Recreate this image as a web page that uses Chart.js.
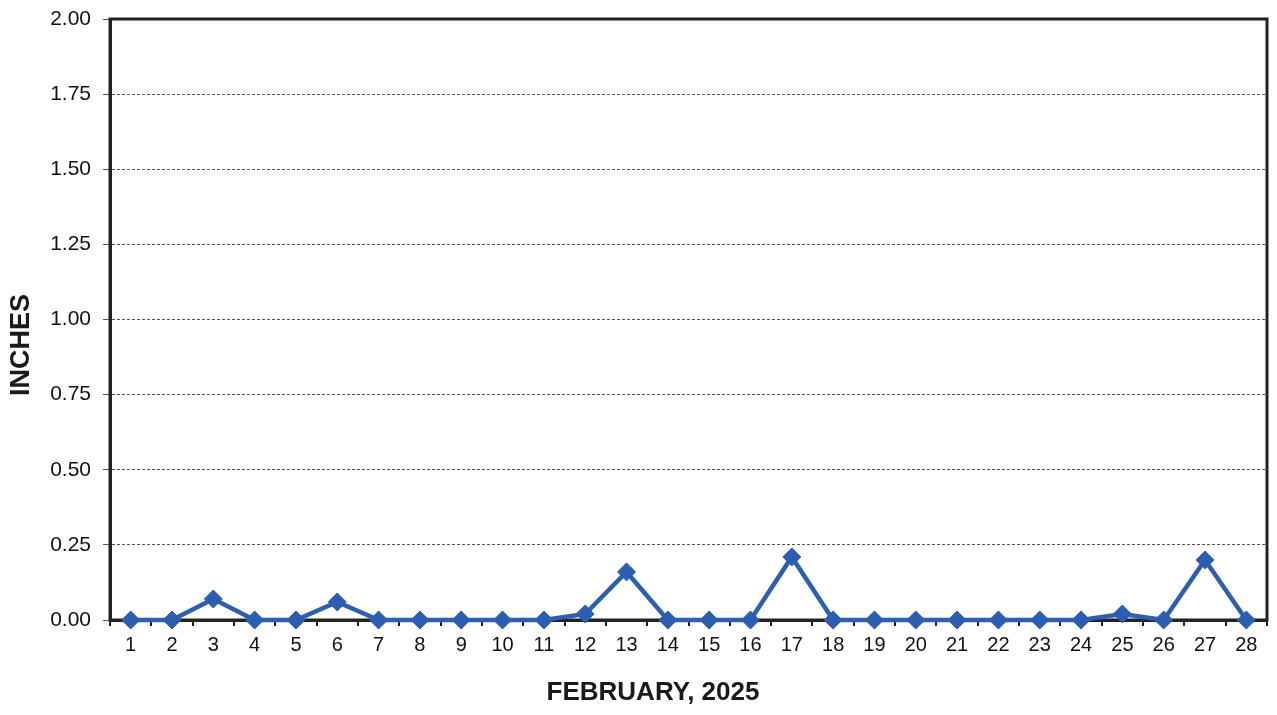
<!DOCTYPE html>
<html>
<head>
<meta charset="utf-8">
<script src="https://cdn.jsdelivr.net/npm/chart.js@4.4.1/dist/chart.umd.min.js"></script>
<style>
  html, body { margin: 0; padding: 0; background: #fff; }
  #wrap { width: 1277px; height: 715px; }
</style>
</head>
<body>
<div id="wrap"><canvas id="rainChart" width="1277" height="715"></canvas></div>
<script>
// 2025年2月 日別降水量（インチ）
const days = [];
for (let d = 1; d <= 28; d++) days.push(String(d));

const inches = [0, 0, 0.07, 0, 0, 0.06, 0, 0, 0, 0,
                0, 0.02, 0.16, 0, 0, 0, 0.21, 0, 0, 0,
                0, 0, 0, 0, 0.02, 0, 0.20, 0];

const yTicks = [0, 0.25, 0.5, 0.75, 1, 1.25, 1.5, 1.75, 2];

const xTitle = 'FEBRUARY, 2025';
const yTitle = 'INCHES';

const FONT = '"Liberation Sans", Arial, sans-serif';

// 枠線（点より先に描く）
const frame = {
  id: 'frame',
  beforeDatasetsDraw(chart) {
    const a = chart.chartArea;
    const c = chart.ctx;
    c.save();
    c.strokeStyle = '#222';
    c.lineWidth = 3;
    c.strokeRect(a.left, a.top, a.right - a.left, a.bottom - a.top);
    c.restore();
  }
};

// 軸タイトル（元の図は中央からずれているので位置を指定して描く）
const axisTitles = {
  id: 'axisTitles',
  afterDraw(chart) {
    const c = chart.ctx;
    c.save();
    c.fillStyle = '#1a1a1a';
    c.textAlign = 'center';
    c.textBaseline = 'middle';
    c.font = 'bold 26px ' + FONT;
    c.fillText(xTitle, 653, 693);
    c.translate(22, 345);
    c.rotate(-Math.PI / 2);
    c.font = 'bold 27px ' + FONT;
    c.fillText(yTitle, 0, 0);
    c.restore();
  }
};

let ctx = document.getElementById('rainChart').getContext('2d');
window.rainChart = new Chart(ctx, {
  type: 'line',
  data: {
    labels: days,
    datasets: [{
      label: 'INCHES',
      data: inches,
      borderColor: '#2e5fae',
      backgroundColor: '#2b5db0',
      borderWidth: 4.5,
      pointStyle: 'rectRot',
      pointRadius: 9,
      pointBorderWidth: 1,
      pointBorderColor: '#2b5db0',
      tension: 0,
      clip: false
    }]
  },
  options: {
    responsive: false,
    animation: false,
    layout: { padding: { top: 19, right: 5, left: 0, bottom: 0 } },
    plugins: {
      legend: { display: false },
      tooltip: { enabled: false }
    },
    scales: {
      x: {
        offset: true,
        afterFit(scale) {
          scale.height = 95;
        },
        grid: {
          offset: true,
          drawOnChartArea: false,
          tickLength: 6,
          color: '#222',
          lineWidth: 2
        },
        border: { display: true, color: '#222', width: 3 },
        ticks: {
          color: '#111',
          font: { family: FONT, size: 20 },
          padding: 7,
          maxRotation: 0,
          autoSkip: false
        }
      },
      y: {
        min: 0,
        max: 2,
        afterBuildTicks(scale) {
          scale.ticks = yTicks.map(v => ({ value: v }));
        },
        afterFit(scale) {
          scale.width = 110;
          scale.paddingTop = 0;
        },
        grid: {
          color: '#555',
          lineWidth: 1,
          tickLength: 7,
        },
        border: { display: true, color: '#222', width: 3, dash: [3, 2] },
        ticks: {
          color: '#111',
          font: { family: FONT, size: 21 },
          padding: 12,
          callback: v => Number(v).toFixed(2)
        }
      }
    }
  },
  plugins: [frame, axisTitles]
});
</script>
</body>
</html>
